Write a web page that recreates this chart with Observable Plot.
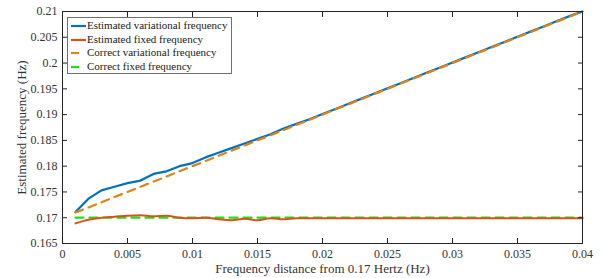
<!DOCTYPE html>
<html>
<head>
<meta charset="utf-8">
<script src="https://cdn.jsdelivr.net/npm/d3@7"></script>
<script src="https://cdn.jsdelivr.net/npm/@observablehq/plot@0.6"></script>
<style>
  body { margin: 0; background: #fff; }
  #wrap { position: relative; width: 605px; height: 278px; font-family: "Liberation Serif", "Times New Roman", serif; }
  #legend { position: absolute; left: 67px; top: 17px; width: 163px; height: 55px; border: 1px solid #707070; background: #fff; box-sizing: content-box; }
  .row { position: absolute; left: 0; height: 13px; font-size: 11px; line-height: 13px; color: #1a1a1a; white-space: nowrap; }
  .row svg { position: absolute; left: 3px; top: 0; }
  .row span { position: absolute; left: 19px; top: 0; }
</style>
</head>
<body>
<div id="wrap"></div>
<script>
const xs = [0.001,0.002,0.003,0.004,0.005,0.006,0.007,0.008,0.009,0.010,0.011,0.012,0.013,0.014,0.015,0.016,0.017,0.018,0.019,0.020,0.021,0.022,0.023,0.024,0.025,0.026,0.027,0.028,0.029,0.030,0.031,0.032,0.033,0.034,0.035,0.036,0.037,0.038,0.039,0.040];
const estVariational = [0.1711,0.1737,0.1753,0.1760,0.1767,0.1772,0.1785,0.1790,0.1800,0.1806,0.1817,0.1826,0.1835,0.1844,0.1853,0.1862,0.1873,0.1882,0.1891,0.1901,0.1911,0.1921,0.1931,0.1941,0.1951,0.1961,0.1971,0.1981,0.1991,0.2001,0.2011,0.2021,0.2031,0.2041,0.2051,0.2061,0.2071,0.2081,0.2091,0.2100];
const estFixed = [0.1689,0.1696,0.1700,0.1702,0.1704,0.1705,0.1703,0.1704,0.1700,0.1699,0.1700,0.1697,0.1695,0.1698,0.1695,0.1699,0.1697,0.1699,0.1699,0.1699,0.1699,0.1699,0.1699,0.1699,0.1699,0.1699,0.1699,0.1699,0.1699,0.1699,0.1699,0.1699,0.1699,0.1699,0.1699,0.1699,0.1699,0.1699,0.1699,0.1699];
const correctVariational = [0.171,0.172,0.173,0.174,0.175,0.176,0.177,0.178,0.179,0.180,0.181,0.182,0.183,0.184,0.185,0.186,0.187,0.188,0.189,0.190,0.191,0.192,0.193,0.194,0.195,0.196,0.197,0.198,0.199,0.200,0.201,0.202,0.203,0.204,0.205,0.206,0.207,0.208,0.209,0.210];
const correctFixed = [0.17,0.17,0.17,0.17,0.17,0.17,0.17,0.17,0.17,0.17,0.17,0.17,0.17,0.17,0.17,0.17,0.17,0.17,0.17,0.17,0.17,0.17,0.17,0.17,0.17,0.17,0.17,0.17,0.17,0.17,0.17,0.17,0.17,0.17,0.17,0.17,0.17,0.17,0.17,0.17];
const xTicks = [0,0.005,0.01,0.015,0.02,0.025,0.03,0.035,0.04];
const yTicks = [0.165,0.17,0.175,0.18,0.185,0.19,0.195,0.2,0.205,0.21];
const xLabel = "Frequency distance from 0.17 Hertz (Hz)";
const yLabel = "Estimated frequency (Hz)";
const seriesNames = ["Estimated variational frequency","Estimated fixed frequency","Correct variational frequency","Correct fixed frequency"];
const seriesColors = ["#0072BD","#D95319","#DF8414","#12E612"];

const rows = (ys) => xs.map((x, i) => ({x, y: ys[i]}));
const fmt = d => String(+d.toFixed(4));
const ink = "#262626";
const textInk = "#333";

const plot = Plot.plot({
  width: 605, height: 278,
  marginLeft: 62, marginRight: 23, marginTop: 11, marginBottom: 35,
  style: {fontFamily: "'Liberation Serif', 'Times New Roman', serif", fontSize: "12px", color: textInk, background: "#fff", overflow: "visible"},
  x: {domain: [0, 0.04], ticks: xTicks},
  y: {domain: [0.165, 0.21], ticks: yTicks},
  marks: [
    Plot.line(rows(correctFixed), {x: "x", y: "y", stroke: seriesColors[3], strokeWidth: 2.2, strokeDasharray: "8,6"}),
    Plot.line(rows(estFixed), {x: "x", y: "y", stroke: seriesColors[1], strokeWidth: 2, curve: "monotone-x"}),
    Plot.line(rows(estVariational), {x: "x", y: "y", stroke: seriesColors[0], strokeWidth: 2.2}),
    Plot.line(rows(correctVariational), {x: "x", y: "y", stroke: seriesColors[2], strokeWidth: 2.2, strokeDasharray: "8,6"}),
    Plot.frame({stroke: ink, strokeWidth: 1}),
    Plot.axisX({anchor: "bottom", ticks: xTicks, tickSize: -5, tickPadding: 11, tickFormat: fmt, fontSize: 12, stroke: ink, label: null}),
    Plot.axisX({anchor: "top", ticks: xTicks, tickSize: -5, tickFormat: () => "", label: null, stroke: ink}),
    Plot.axisY({anchor: "left", ticks: yTicks, tickSize: -5, tickPadding: 10, tickFormat: fmt, fontSize: 12, stroke: ink, label: null}),
    Plot.axisY({anchor: "right", ticks: yTicks, tickSize: -5, tickFormat: () => "", label: null, stroke: ink}),
    Plot.text([xLabel], {text: d => d, frameAnchor: "bottom", lineAnchor: "middle", textAnchor: "middle", dy: 25, fontSize: 13, fill: textInk}),
    Plot.text([yLabel], {text: d => d, frameAnchor: "left", lineAnchor: "middle", textAnchor: "middle", dx: -41, rotate: -90, fontSize: 13, fill: textInk})
  ]
});
const wrap = document.getElementById("wrap");
wrap.appendChild(plot);

const legend = document.createElement("div");
legend.id = "legend";
const tops = [1, 15, 28, 42];
seriesNames.forEach((name, i) => {
  const row = document.createElement("div");
  row.className = "row";
  row.style.top = tops[i] + "px";
  const dashed = i >= 2;
  row.innerHTML = `<svg width="16" height="13"><line x1="0" x2="${dashed ? 8 : 15}" y1="7" y2="7" stroke="${seriesColors[i]}" stroke-width="2.2"/></svg><span>${name}</span>`;
  legend.appendChild(row);
});
wrap.appendChild(legend);
</script>
</body>
</html>
